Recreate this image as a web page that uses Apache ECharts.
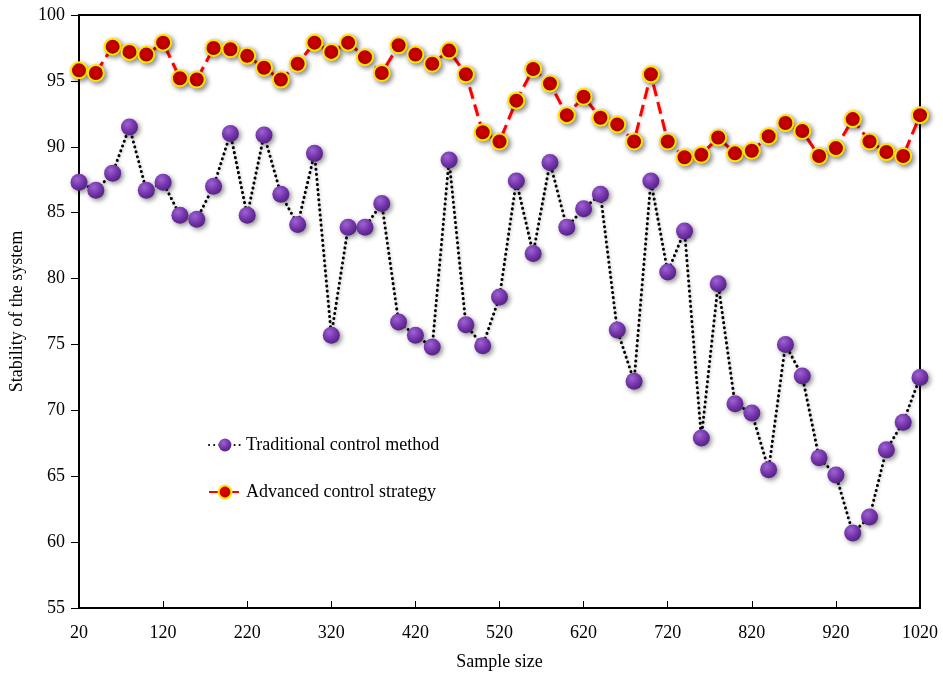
<!DOCTYPE html>
<html>
<head>
<meta charset="utf-8">
<script src="https://cdn.jsdelivr.net/npm/echarts@6/dist/echarts.min.js"></script>
<style>
html,body{margin:0;padding:0;background:#fff;}
#chart{width:943px;height:678px;}
</style>
</head>
<body>
<div id="chart"></div>
<script>
var sampleSizes = [20,40,60,80,100,120,140,160,180,200,220,240,260,280,300,320,340,360,380,400,420,440,460,480,500,520,540,560,580,600,620,640,660,680,700,720,740,760,780,800,820,840,860,880,900,920,940,960,980,1000,1020];
var traditional = [87.3,86.7,88.0,91.5,86.7,87.3,84.8,84.5,87.0,91.0,84.8,90.9,86.4,84.1,89.5,75.7,83.9,83.9,85.7,76.7,75.7,74.8,89.0,76.5,74.9,78.6,87.4,81.9,88.8,83.9,85.3,86.4,76.1,72.2,87.4,80.5,83.6,67.9,79.6,70.5,69.8,65.5,75.0,72.6,66.4,65.1,60.7,61.9,67.0,69.1,72.5];
var advanced = [95.8,95.6,97.6,97.2,97.0,97.9,95.2,95.1,97.5,97.4,96.9,96.0,95.1,96.3,97.9,97.2,97.9,96.8,95.6,97.7,97.0,96.3,97.3,95.5,91.1,90.4,93.5,95.9,94.8,92.4,93.8,92.2,91.7,90.4,95.5,90.4,89.2,89.4,90.7,89.5,89.7,90.8,91.8,91.2,89.3,89.9,92.1,90.4,89.6,89.3,92.4];
var yTicks = {min:55, max:100, step:5};
var xLabelStep = 5;

var FONT = '"Liberation Serif", "Times New Roman", serif';
var chart = echarts.init(document.getElementById('chart'));

var purpleFill = new echarts.graphic.RadialGradient(0.38, 0.32, 0.75, [
  {offset:0, color:'#9d63d3'},
  {offset:0.55, color:'#7434aa'},
  {offset:1, color:'#4e1f7c'}
]);
var redFill = new echarts.graphic.RadialGradient(0.4, 0.35, 0.75, [
  {offset:0, color:'#e40000'},
  {offset:0.6, color:'#c00000'},
  {offset:1, color:'#8c0000'}
]);

chart.setOption({
  backgroundColor:'#fff',
  animation:false,
  grid:{left:79, right:23, top:15, bottom:70, show:true, borderColor:'#000', borderWidth:2, backgroundColor:'transparent'},
  legend:{
    orient:'vertical', left:203, top:431, itemGap:29, itemWidth:32, itemHeight:16,
    textStyle:{fontFamily:FONT, fontSize:18, color:'#000'},
    data:['Traditional control method','Advanced control strategy']
  },
  xAxis:{
    type:'category', data:sampleSizes, boundaryGap:false,
    name:'Sample size', nameLocation:'middle', nameGap:45,
    nameTextStyle:{fontFamily:FONT, fontSize:18, color:'#000'},
    axisLine:{lineStyle:{color:'#000', width:2}},
    axisTick:{inside:true, length:7, interval:xLabelStep-1, lineStyle:{color:'#000', width:1}},
    axisLabel:{interval:xLabelStep-1, margin:16, fontFamily:FONT, fontSize:18, color:'#000'},
    splitLine:{show:false}
  },
  yAxis:{
    type:'value', min:yTicks.min, max:yTicks.max, interval:yTicks.step,
    name:'Stability of the system', nameLocation:'middle', nameGap:53,
    nameTextStyle:{fontFamily:FONT, fontSize:18, color:'#000'},
    axisLine:{show:true, lineStyle:{color:'#000', width:2}},
    axisTick:{show:true, length:8, lineStyle:{color:'#000', width:1}},
    axisLabel:{margin:14, fontFamily:FONT, fontSize:18, color:'#000'},
    splitLine:{show:false}
  },
  series:[
    {
      name:'Traditional control method', type:'line', data:traditional,
      symbol:'circle', symbolSize:17, showAllSymbol:true,
      lineStyle:{color:'#000', width:3, type:[0.1,5], cap:'round', shadowColor:'rgba(0,0,0,0.25)', shadowBlur:3, shadowOffsetX:1, shadowOffsetY:1},
      itemStyle:{color:purpleFill, borderWidth:0, shadowColor:'rgba(0,0,0,0.45)', shadowBlur:5, shadowOffsetX:2, shadowOffsetY:2},
      z:2
    },
    {
      name:'Advanced control strategy', type:'line', data:advanced,
      symbol:'circle', symbolSize:16, showAllSymbol:true,
      lineStyle:{color:'#ff0000', width:3, type:[12,6], shadowColor:'rgba(0,0,0,0.25)', shadowBlur:3, shadowOffsetX:1, shadowOffsetY:1},
      itemStyle:{color:redFill, borderColor:'#ffe600', borderWidth:2, shadowColor:'rgba(0,0,0,0.45)', shadowBlur:5, shadowOffsetX:2, shadowOffsetY:2},
      z:3
    }
  ]
});
</script>
</body>
</html>
